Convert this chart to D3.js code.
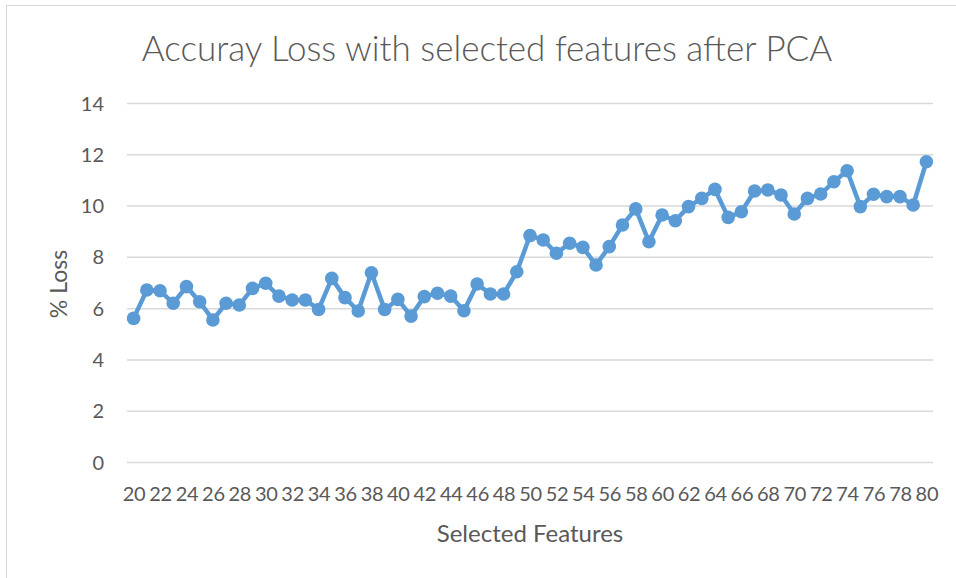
<!DOCTYPE html>
<html lang="en">
  <head>
    <meta charset="utf-8">
    <title>Accuray Loss</title>
    <script src="https://cdn.jsdelivr.net/npm/d3@7"></script>
    <style>
      body { margin: 0; background: #fff; }
      text { font-family: Lato, "Open Sans", sans-serif; fill: #595959; }
    </style>
  </head>
  <body>
    <script>
      // selected feature counts 20..80
      var features = [20,21,22,23,24,25,26,27,28,29,30,31,32,33,34,35,36,37,38,39,
                      40,41,42,43,44,45,46,47,48,49,50,51,52,53,54,55,56,57,58,59,
                      60,61,62,63,64,65,66,67,68,69,70,71,72,73,74,75,76,77,78,79,80];
      var loss = [5.60,6.71,6.68,6.19,6.84,6.25,5.54,6.19,6.12,6.77,
                  6.97,6.47,6.32,6.32,5.95,7.16,6.41,5.89,7.38,5.95,
                  6.34,5.69,6.45,6.58,6.47,5.90,6.94,6.55,6.55,7.42,
                  8.83,8.66,8.14,8.53,8.37,7.68,8.40,9.24,9.87,8.59,
                  9.63,9.41,9.96,10.28,10.63,9.54,9.76,10.57,10.61,10.41,
                  9.67,10.28,10.45,10.93,11.36,9.96,10.44,10.35,10.35,10.02,11.71];
      var yTicks = [0,2,4,6,8,10,12,14];
      var xTickLabels = features.filter(function(d) { return d % 2 === 0; });

      var width = 956, height = 578;
      var svg = d3.select("body").append("svg")
                  .attr("width", width)
                  .attr("height", height);

      // chart border
      svg.append("rect")
         .attr("x", 6.5).attr("y", 5.5)
         .attr("width", 960).attr("height", 580)
         .attr("fill", "none")
         .attr("stroke", "#d9d9d9");

      var x = d3.scalePoint()
                .domain(features)
                .range([127, 933])
                .padding(0.5);

      var y = d3.scaleLinear()
                .domain([0, 14])
                .range([462, 103]);

      // gridlines + y labels
      var yAxis = d3.axisLeft(y)
                    .tickValues(yTicks)
                    .tickSize(-(933 - 127))
                    .tickPadding(23);
      var gy = svg.append("g")
                  .attr("transform", "translate(127,0)")
                  .call(yAxis);
      gy.select(".domain").remove();
      gy.selectAll("line").attr("stroke", "#d9d9d9").attr("stroke-width", 1.5);
      gy.selectAll("text")
        .style("font-size", "20px")
        .attr("dy", "0.35em");

      // x labels
      var xAxis = d3.axisBottom(x)
                    .tickValues(xTickLabels)
                    .tickSize(0)
                    .tickPadding(25);
      var gx = svg.append("g")
                  .attr("transform", "translate(0,462)")
                  .call(xAxis);
      gx.select(".domain").remove();
      gx.selectAll("text").style("font-size", "20px").attr("letter-spacing", "-0.3px");

      // line
      var line = d3.line()
                   .x(function(d, i) { return x(features[i]); })
                   .y(function(d) { return y(d); });

      svg.append("path")
         .datum(loss)
         .attr("fill", "none")
         .attr("stroke", "#5b9bd5")
         .attr("stroke-width", 4.5)
         .attr("stroke-linejoin", "round")
         .attr("d", line);

      svg.append("g")
         .selectAll("circle")
         .data(loss)
         .enter()
         .append("circle")
           .attr("cx", function(d, i) { return x(features[i]); })
           .attr("cy", function(d) { return y(d); })
           .attr("r", 6.8)
           .attr("fill", "#5b9bd5");

      // titles
      svg.append("text")
         .attr("x", 487).attr("y", 61)
         .attr("text-anchor", "middle")
         .style("font-size", "35px")
         .style("font-weight", 300)
         .text("Accuray Loss with selected features after PCA");

      svg.append("text")
         .attr("x", 530).attr("y", 542)
         .attr("text-anchor", "middle")
         .style("font-size", "24px")
         .text("Selected Features");

      svg.append("text")
         .attr("transform", "translate(67,284) rotate(-90)")
         .attr("text-anchor", "middle")
         .style("font-size", "23px")
         .text("% Loss");
    </script>
  </body>
</html>
